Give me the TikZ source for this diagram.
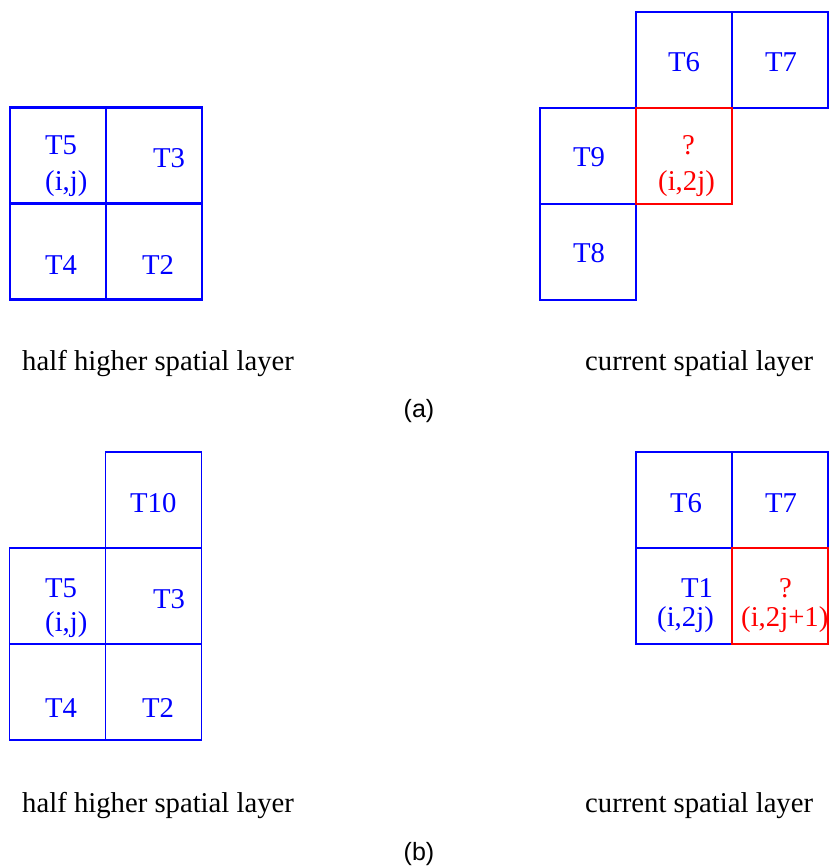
\documentclass[tikz,border=0pt]{standalone}
\usepackage{fontspec}
\setmainfont{Liberation Serif}
\newfontfamily\capfont{Liberation Sans}
\usetikzlibrary{positioning}

\definecolor{cellblue}{RGB}{0,0,255}
\definecolor{cellred}{RGB}{255,0,0}

\begin{document}
\begin{tikzpicture}[x=1pt, y=-1pt,
 cell/.style={draw=cellblue, minimum size=96pt, inner sep=0pt, outer sep=0pt},
 qcell/.style={cell, draw=cellred},
 thick cells/.style={line width=2.4pt},
 thin cells/.style={line width=1.3pt},
 lbl/.style={anchor=base west, inner sep=0pt, text=cellblue, font=\fontsize{28.7}{34}\selectfont},
 qlbl/.style={lbl, text=cellred},
 layer/.style={anchor=base west, inner sep=0pt, font=\fontsize{28.7}{34}\selectfont},
 sub/.style={anchor=base, inner sep=0pt, font=\capfont\fontsize{25}{30}\selectfont}]
\useasboundingbox (0,0) rectangle (831,866);

% (a) half higher spatial layer
\begin{scope}[thick cells]
\node[cell] (a5) at (58,155.5) {};
\node[cell, right=0pt of a5] (a3) {};
\node[cell, below=0pt of a5] (a4) {};
\node[cell, right=0pt of a4] (a2) {};
\end{scope}
\node[lbl] (a5t) at (45,155) {T5};
\node[lbl] (a5i) at (45,191) {(i,j)};
\node[lbl] (a3t) at (153,168) {T3};
\node[lbl] (a4t) at (45,275) {T4};
\node[lbl] (a2t) at (142,275) {T2};

% (a) current spatial layer
\begin{scope}[thick cells]
\node[cell] (a6) at (684,60) {};
\node[cell, right=0pt of a6] (a7) {};
\node[cell, below=0pt of a6] (aq) {};
\node[cell, left=0pt of aq] (a9) {};
\node[cell, below=0pt of a9] (a8) {};
\node[qcell] (aqr) at (aq) {};
\end{scope}
\node[lbl] (a6t) at (668,72) {T6};
\node[lbl] (a7t) at (765,72) {T7};
\node[lbl] (a9t) at (573,167) {T9};
\node[lbl] (a8t) at (573,262) {T8};
\node[qlbl] (aqt) at (682,155) {?};
\node[qlbl] (aqi) at (658,191) {(i,2j)};

\node[layer] (ahalf) at (22,370) {half higher spatial layer};
\node[layer] (acur) at (585,370) {current spatial layer};
\node[sub] (acap) at (419,417) {(a)};

% (b) half higher spatial layer
\begin{scope}[thin cells]
\node[cell] (b10) at (153.5,500) {};
\node[cell, below=0pt of b10] (b3) {};
\node[cell, left=0pt of b3] (b5) {};
\node[cell, below=0pt of b5] (b4) {};
\node[cell, right=0pt of b4] (b2) {};
\end{scope}
\node[lbl] (b10t) at (130,512) {T10};
\node[lbl] (b5t) at (45,597) {T5};
\node[lbl] (b5i) at (45,631) {(i,j)};
\node[lbl] (b3t) at (153,608) {T3};
\node[lbl] (b4t) at (45,717) {T4};
\node[lbl] (b2t) at (142,717) {T2};

% (b) current spatial layer
\begin{scope}[thin cells]
\node[cell] (b6) at (684,500) {};
\node[cell, right=0pt of b6] (b7) {};
\node[cell, below=0pt of b6] (b1) {};
\node[qcell, right=0pt of b1] (bq) {};
\end{scope}
\node[lbl] (b6t) at (670,512) {T6};
\node[lbl] (b7t) at (765,512) {T7};
\node[lbl] (b1t) at (681,597) {T1};
\node[lbl] (b1i) at (657,626) {(i,2j)};
\node[qlbl] (bqt) at (779,597) {?};
\node[qlbl] (bqi) at (741,626) {(i,2j+1)};

\node[layer] (bhalf) at (22,812) {half higher spatial layer};
\node[layer] (bcur) at (585,812) {current spatial layer};
\node[sub] (bcap) at (419,860) {(b)};
\end{tikzpicture}
\end{document}
